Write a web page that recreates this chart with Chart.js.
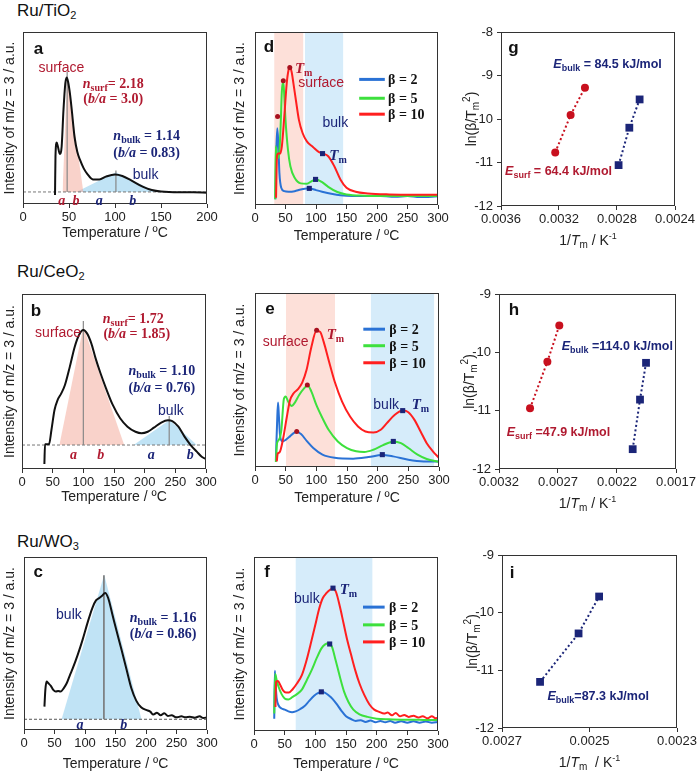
<!DOCTYPE html>
<html>
<head>
<meta charset="utf-8">
<script src="https://cdn.jsdelivr.net/npm/chart.js@4.4.1/dist/chart.umd.min.js"></script>
<style>
  body { margin: 0; background: #fff; width: 700px; height: 776px; position: relative; overflow: hidden;
         font-family: "Liberation Sans", Arial, sans-serif; color: #111; }
  .panel { position: absolute; }
  .ttl { position: absolute; left: 17px; font-size: 17px; line-height: 20px; white-space: nowrap; }
  .ttl sub { font-size: 11px; vertical-align: -3px; }
</style>
</head>
<body>
<div class="ttl" style="top:1px">Ru/TiO<sub>2</sub></div>
<div class="ttl" style="top:262px">Ru/CeO<sub>2</sub></div>
<div class="ttl" style="top:532px">Ru/WO<sub>3</sub></div>
<script>
// ---- data: TPD profiles (temperature / ºC, intensity a.u. on 0-100) ----
const tiTemp = [34.8, 35.3, 36.6, 38, 40, 42, 44, 46, 47.5, 49, 51, 53, 56, 59, 62, 66, 70, 76, 83, 90, 100, 108, 118, 130, 140, 150, 170, 185, 200];
const tiInt  = [5.2, 27.5, 35.7, 33.3, 29.1, 33.3, 54.7, 70.2, 73.6, 71.1, 64.3, 54.7, 39.1, 30.4, 25.6, 20.7, 17.4, 14.3, 14.3, 15.9, 17.2, 16.3, 13.6, 10.1, 8.1, 7.2, 6.8, 6.8, 6.6];

const ceTemp = [36.5, 37.5, 44, 48, 53, 58, 64, 70, 78, 86, 93, 100, 106, 113, 120, 128, 137, 148, 160, 172, 185, 195, 205, 215, 227, 238, 245, 255, 265, 275, 285, 293, 300];
const ceInt  = [2.9, 14.1, 14.1, 22.3, 33.7, 39.4, 43.2, 48, 58.5, 69.9, 76.6, 79.4, 77.5, 71.8, 63.2, 54.7, 46.1, 36.6, 29, 24.2, 21.3, 20.4, 21.3, 23.6, 26.5, 27.8, 27.4, 24.2, 18.5, 13.7, 9.9, 7, 5.7];

const woTemp = [33.5, 35, 37, 40, 44, 48, 52, 56, 60, 65, 70, 75, 80, 88, 96, 104, 112, 118, 124, 128, 133, 138, 145, 152, 160, 168, 176, 184, 192, 200, 207, 212, 218, 224, 230, 236, 242, 250, 258, 265, 272, 280, 288, 294, 300];
const woInt  = [13.5, 23.2, 28, 27, 25.5, 23.2, 22.2, 22.6, 22.2, 24.1, 27, 31.5, 35.7, 43.4, 52.1, 61.8, 70.5, 74.9, 76.4, 77.6, 79.2, 76.3, 66.6, 56.9, 46.3, 35.1, 24.1, 17, 13.1, 11.6, 10.6, 8.9, 10, 8.5, 9.7, 8.1, 8.5, 7.3, 7.9, 7.3, 7.7, 7.1, 7.9, 6.9, 7.3];

// Ru/TiO2 heating-rate series
const dTemp10 = [34.5, 36, 38, 41, 44, 48, 52, 55, 57, 60, 63, 67, 72, 78, 85, 95, 105, 112, 120, 130, 140, 150, 165, 185, 220, 260, 300];
const dInt10  = [4.2, 28.2, 29.7, 29.7, 33.9, 51.1, 70.3, 78, 79.5, 77, 70.3, 60.7, 49.2, 41.6, 36.8, 33.5, 30.5, 29.7, 28.2, 22.4, 14.8, 10, 7.7, 6.7, 6.1, 5.9, 5.9];
const dTemp5 = [33, 34, 36, 38, 40, 42, 44, 45.5, 47, 50, 54, 58, 65, 75, 85, 93, 100, 110, 120, 135, 150, 180, 220, 300];
const dInt5  = [3.3, 33.9, 28.2, 27.2, 31, 45.4, 65.5, 70.7, 68.8, 49.2, 32, 22.4, 15.7, 12.5, 12.3, 13.8, 14.8, 13.2, 10.5, 7.5, 6.1, 5.4, 5.2, 5.2];
const dTemp2 = [33.5, 35, 36.5, 38, 40, 43, 48, 55, 65, 75, 85, 92, 100, 110, 125, 140, 160, 200, 230, 250, 270, 300];
const dInt2  = [3.3, 32, 44.4, 37.7, 18.6, 10, 8, 7.7, 8, 9, 9.6, 9.4, 8.6, 7.7, 6.5, 5.6, 5.2, 5.3, 4.7, 5.2, 4.6, 5];

// Ru/CeO2 heating-rate series
const eTemp10 = [35.5, 37, 40, 46, 52, 57, 63, 70, 77, 84, 92, 100, 106, 112, 120, 130, 142, 155, 168, 180, 193, 205, 215, 228, 241, 250, 260, 270, 280, 290, 300];
const eInt10  = [3.2, 7.6, 8.4, 16.6, 29, 38.2, 42.4, 44.7, 48.5, 55.7, 69.1, 78.2, 77.7, 71.9, 61.5, 49, 37.6, 29, 23.3, 20.4, 19.8, 21.4, 25.2, 30, 32.4, 31.5, 27.1, 20.4, 13.7, 9, 5.2];
const eTemp5 = [34, 36, 39, 43, 47, 50, 54, 60, 65, 72, 80, 86, 92, 100, 110, 120, 135, 150, 165, 178, 193, 208, 226, 238, 250, 265, 280, 300];
const eInt5  = [2.9, 13.7, 15.6, 21.4, 38.9, 40.5, 37.6, 35.1, 37, 41.4, 45.2, 46.9, 43.3, 35.7, 28.1, 21.4, 14.7, 10.9, 9, 8.6, 9.9, 12.4, 14.7, 13.7, 10.9, 7.1, 4.6, 2.9];
const eTemp2 = [34, 36, 37.5, 39, 41, 45, 50, 57, 63, 68, 75, 85, 95, 110, 130, 160, 185, 207, 225, 250, 275, 300];
const eInt2  = [3.8, 25.2, 37, 29, 17.6, 14.7, 15.6, 17.6, 19.5, 20.2, 18.9, 14.7, 10.9, 7.1, 5.3, 4.8, 5.7, 6.9, 6.1, 4.2, 3.2, 3.1];

// Ru/WO3 heating-rate series
const fTemp10 = [35, 36, 39, 43, 47, 52, 57, 63, 70, 78, 85, 92, 100, 106, 112, 118, 124, 129, 134, 140, 146, 152, 158, 165, 172, 180, 188, 196, 204, 212, 218, 225, 231, 238, 245, 252, 260, 268, 275, 283, 290, 296, 300];
const fInt10  = [13.8, 28.3, 28.8, 26.3, 23.5, 22.1, 22.1, 24, 27.3, 32.1, 39.8, 49.4, 61, 70, 76.3, 79.2, 81.2, 82.1, 79.6, 71.5, 61.9, 52.3, 44.2, 35, 27.3, 20.6, 15.4, 12.3, 11, 10, 10.6, 9, 10.4, 8.5, 9.2, 8.1, 8.8, 7.7, 8.5, 7.3, 8.5, 7.3, 7.7];
const fTemp5 = [33, 34.5, 37, 40, 45, 50, 56, 63, 70, 78, 86, 94, 102, 110, 116, 122, 127, 133, 140, 147, 154, 162, 172, 185, 200, 220, 240, 260, 280, 300];
const fInt5  = [10, 32.7, 29.2, 25.4, 21.2, 18.7, 18.1, 19.6, 21.2, 23.8, 29.2, 35, 41.7, 47.5, 49.8, 50.4, 48.5, 40.8, 31.2, 22.5, 16.7, 12.3, 9.6, 8.1, 7.1, 6.7, 6.5, 6.5, 6.3, 6.3];
const fTemp2 = [33, 34, 35.5, 37, 40, 45, 50, 56, 62, 68, 75, 82, 90, 98, 104, 110, 116, 122, 128, 135, 142, 150, 158, 166, 174, 182, 190, 198, 206, 214, 222, 230, 240, 250, 260, 270, 280, 290, 300];
const fInt2  = [7.1, 34.6, 25.4, 18.7, 14.8, 12.9, 12.3, 11.3, 10.8, 11.3, 12.5, 14.2, 17.3, 20.2, 21.7, 22.5, 21.9, 20.4, 18.5, 15.4, 11.9, 8.5, 6.9, 5.8, 6.2, 5.2, 6, 5, 5.8, 5, 5.8, 4.8, 5.6, 4.8, 5.6, 4.8, 5.4, 4.8, 5.2];

// peak-width construction (triangles: base-left, apex, base-right)
const tiBase = 7, ceBase = 13.7, woBase = 6.2;
const tiSurfTriT = [43, 48, 65.6],   tiSurfTriI = [7, 74, 7];
const tiBulkTriT = [58, 101, 145],   tiBulkTriI = [7, 18.5, 7];
const ceSurfTriT = [61, 100, 166.6], ceSurfTriI = [13.7, 81.3, 13.7];
const ceBulkTriT = [182, 240.6, 285], ceBulkTriI = [13.7, 28, 13.7];
const woBulkTriT = [61.6, 131.5, 192.6], woBulkTriI = [6.2, 89.8, 6.2];

// Tm markers
const dSurfTmT = [37, 46.4, 57],      dSurfTmI = [51.1, 71.8, 79.5];
const dBulkTmT = [89, 99.3, 110.7],   dBulkTmI = [9.6, 14.8, 29.7];
const eSurfTmT = [68, 85.3, 100.5],   eSurfTmI = [20.4, 47.1, 78.6];
const eBulkTmT = [207.6, 225.5, 240.8], eBulkTmI = [7.1, 14.7, 32.4];
const fBulkTmT = [109.8, 123.4, 128.8], fBulkTmI = [22.5, 50, 82.1];

// shaded temperature windows
const dSurfBand = [31.6, 79],  dBulkBand = [82, 144.5];
const eSurfBand = [50.5, 130.4], eBulkBand = [189, 292];
const fBulkBand = [68, 193];

// Kissinger plots: 1/Tm (K-1) vs ln(beta/Tm^2)
const gSurfX = [0.003226, 0.003120, 0.003021], gSurfY = [-10.77, -9.91, -9.28];
const gBulkX = [0.002789, 0.002715, 0.002644], gBulkY = [-11.06, -10.20, -9.55];
const hSurfX = [0.002937, 0.002790, 0.002689], hSurfY = [-10.96, -10.16, -9.54];
const hBulkX = [0.002067, 0.002005, 0.001954], hBulkY = [-11.66, -10.81, -10.18];
const iBulkX = [0.002613, 0.002525, 0.002478], iBulkY = [-11.2, -10.36, -9.72];

// ticks and labels
const tiTicks = [0, 50, 100, 150, 200];
const tempTicks = [0, 50, 100, 150, 200, 250, 300];
const gXTicks = [0.0036, 0.0032, 0.0028, 0.0024], gYTicks = [-12, -11, -10, -9, -8];
const hXTicks = [0.0032, 0.0027, 0.0022, 0.0017], hYTicks = [-12, -11, -10, -9];
const iXTicks = [0.0027, 0.0025, 0.0023], iYTicks = [-12, -11, -10, -9];
const betaLabels = ['β = 2', 'β = 5', 'β = 10'];

// ---- styling ----
const SANS = '"Liberation Sans", Arial, Helvetica, sans-serif';
const SERIF = '"Liberation Serif", "Times New Roman", serif';
const fs = (size, w) => `${w || ''} ${size}px ${SANS}`.trim();
const fr = (size, w) => `${w || ''} ${size}px ${SERIF}`.trim();
const RED_T = '#b01a30', NAVY = '#1b2578';
const C2 = '#2a72d5', C5 = '#3de03d', C10 = '#ff1f1f';
const PINK = 'rgba(244,165,150,0.5)', SKY = 'rgba(130,200,235,0.5)';
const PINK_BAND = '#fde0d9', SKY_BAND = '#d6ecfa';

Chart.defaults.font.family = SANS;
Chart.defaults.color = '#222';
Chart.defaults.animation = false;
Chart.defaults.plugins.legend.display = false;
Chart.defaults.plugins.tooltip.enabled = false;

const pts = (xs, ys) => xs.map((x, i) => ({ x, y: ys[i] }));

// rich text pieces: [text, font, dy]
const nText = (sub, val) => [['n', fr(14, 'italic bold')], [sub, fr(10, 'bold'), 3], [val, fr(14, 'bold')]];
const baText = (val) => [['(', fr(14, 'bold')], ['b/a', fr(14, 'italic bold')], [' = ' + val + ')', fr(14, 'bold')]];
const tmText = [['T', fr(15, 'italic bold')], ['m', fr(10, 'bold'), 3]];
const eText = (sub, rest) => [['E', fs(12.5, 'italic bold')], [sub, fs(9, 'bold'), 3], [rest, fs(12.5, 'bold')]];
const word = (t) => [[t, fs(14)]];
const letter = (t) => [[t, fr(14, 'italic bold')]];
const panelTag = (t) => [[t, fs(17, 'bold')]];
const invT = (gap) => [['1/', fs(14)], ['T', fs(14, 'italic')], ['m', fs(10), 3], [gap + '/ K', fs(14)], ['-1', fs(9), -6]];
const lnTitle = [['ln(β/T', fs(14)], ['m', fs(10), 3], ['2', fs(10), -6], [')', fs(14)]];

function runs(ctx, x, y, list, color, align) {
  ctx.save();
  ctx.fillStyle = color;
  ctx.textBaseline = 'alphabetic';
  ctx.textAlign = 'left';
  let w = 0;
  for (const r of list) { ctx.font = r[1]; w += ctx.measureText(r[0]).width; }
  let cx = align === 'center' ? x - w / 2 : align === 'right' ? x - w : x;
  for (const r of list) {
    ctx.font = r[1];
    ctx.fillText(r[0], cx, y + (r[2] || 0));
    cx += ctx.measureText(r[0]).width;
  }
  ctx.restore();
}

const deco = {
  id: 'deco',
  beforeDatasetsDraw(chart, args, o) {
    const { ctx, chartArea: a, scales: { x } } = chart;
    for (const b of o.bands || []) {
      const x1 = x.getPixelForValue(b.range[0]), x2 = x.getPixelForValue(b.range[1]);
      ctx.fillStyle = b.color;
      ctx.fillRect(x1, a.top, x2 - x1, a.bottom - a.top);
    }
  },
  afterDatasetsDraw(chart, args, o) {
    const { ctx, chartArea: a, scales: { x, y } } = chart;
    ctx.save();
    ctx.strokeStyle = '#333';
    ctx.lineWidth = 1;
    ctx.strokeRect(Math.round(a.left) + 0.5, Math.round(a.top) + 0.5,
      Math.round(a.right - a.left) - 1, Math.round(a.bottom - a.top) - 1);
    ctx.restore();
    for (const n of o.notes || []) {
      runs(ctx, x.getPixelForValue(n.x), y.getPixelForValue(n.y) + (n.dy || 5), n.parts, n.color || '#111', n.align);
    }
    if (o.legend) {
      const L = o.legend;
      L.colors.forEach((c, i) => {
        const py = y.getPixelForValue(L.ys[i]);
        ctx.save();
        ctx.strokeStyle = c; ctx.lineWidth = 3;
        ctx.beginPath();
        ctx.moveTo(x.getPixelForValue(L.x1), py);
        ctx.lineTo(x.getPixelForValue(L.x2), py);
        ctx.stroke();
        ctx.restore();
        runs(ctx, x.getPixelForValue(L.tx), py + 5, [[L.labels[i], fr(14, 'bold')]], '#111', 'left');
      });
    }
    if (o.xTitle) runs(ctx, (a.left + a.right) / 2, a.bottom + 39, o.xTitle, '#222', 'center');
    if (o.yTitle) {
      ctx.save();
      ctx.translate(a.left - 30, (a.top + a.bottom) / 2);
      ctx.rotate(-Math.PI / 2);
      runs(ctx, 0, 5, o.yTitle, '#222', 'center');
      ctx.restore();
    }
  }
};

function curve(xs, ys, color, w) {
  return { data: pts(xs, ys), borderColor: color, borderWidth: w || 2, pointRadius: 0,
           cubicInterpolationMode: 'monotone', fill: false };
}
function tri(xs, ys, base, color) {
  return { data: pts(xs, ys), borderColor: 'rgba(0,0,0,0)', borderWidth: 0, backgroundColor: color,
           pointRadius: 0, tension: 0, fill: { value: base } };
}
function vline(xv, y0, y1, color, w) {
  return { data: [{ x: xv, y: y0 }, { x: xv, y: y1 }], borderColor: color || '#888', borderWidth: w || 1.2, pointRadius: 0, tension: 0 };
}
function hdash(x0, x1, yv, color) {
  return { data: [{ x: x0, y: yv }, { x: x1, y: yv }], borderColor: color || '#777', borderWidth: 1, borderDash: [3, 2], pointRadius: 0, tension: 0 };
}
function marks(xs, ys, style, color, r) {
  return { data: pts(xs, ys), showLine: false, pointStyle: style, pointRadius: r, backgroundColor: color, borderColor: color, borderWidth: 0 };
}
function dotted(xs, ys, color, style, r) {
  return { data: pts(xs, ys), borderColor: color, borderWidth: 2, borderDash: [2, 2.5], tension: 0,
           pointStyle: style, pointRadius: r, pointBackgroundColor: color, pointBorderColor: color, pointBorderWidth: 0 };
}

function tpdScales(xmax, ticks) {
  return {
    x: { type: 'linear', min: 0, max: xmax,
         afterBuildTicks: s => { s.ticks = ticks.map(v => ({ value: v })); },
         grid: { drawOnChartArea: false, tickLength: 4, color: '#333' }, border: { display: false },
         ticks: { font: { size: 13 }, color: '#222', padding: 2, maxRotation: 0, autoSkip: false },
         title: { display: true, text: 'Temperature / ºC', font: { size: 14 }, color: '#222', padding: 0 } },
    y: { min: 0, max: 100, ticks: { display: false }, grid: { display: false }, border: { display: false },
         title: { display: true, text: 'Intensity of m/z = 3 / a.u.', font: { size: 14 }, color: '#222', padding: { top: 2 } } }
  };
}
function kinScales(xmin, xmax, xt, ymax, yt) {
  return {
    x: { type: 'linear', reverse: true, min: xmin, max: xmax,
         afterBuildTicks: s => { s.ticks = xt.map(v => ({ value: v })); },
         grid: { drawOnChartArea: false, tickLength: 4, color: '#333' }, border: { display: false },
         ticks: { font: { size: 13 }, color: '#222', padding: 2, maxRotation: 0, autoSkip: false, callback: v => v.toFixed(4) } },
    y: { min: -12, max: ymax,
         afterBuildTicks: s => { s.ticks = yt.map(v => ({ value: v })); },
         grid: { drawOnChartArea: false, tickLength: 4, color: '#333' }, border: { display: false },
         ticks: { font: { size: 13 }, color: '#222', padding: 4, callback: v => String(v) } }
  };
}

function makePanel(box, plot, datasets, scales, deco_opts) {
  const div = document.createElement('div');
  div.className = 'panel';
  Object.assign(div.style, { left: box.x + 'px', top: box.y + 'px', width: box.w + 'px', height: box.h + 'px' });
  const cv = document.createElement('canvas');
  cv.width = box.w; cv.height = box.h;
  cv.style.width = box.w + 'px'; cv.style.height = box.h + 'px';
  div.appendChild(cv);
  document.body.appendChild(div);
  scales.x.afterFit = s => { s.height = box.y + box.h - plot.b; };
  scales.y.afterFit = s => { s.width = plot.l - box.x; };
  new Chart(cv, {
    type: 'line',
    data: { datasets },
    options: {
      responsive: false,
      layout: { padding: { left: 0, top: plot.t - box.y, right: box.x + box.w - plot.r, bottom: 0 } },
      scales,
      plugins: { deco: deco_opts }
    },
    plugins: [deco]
  });
}

// ---- a: Ru/TiO2 ----
makePanel({ x: 0, y: 20, w: 230, h: 222 }, { l: 23, t: 32, r: 207, b: 204 }, [
  curve(tiTemp, tiInt, '#111'),
  vline(48, tiBase, 77), vline(101, tiBase, 19.5),
  hdash(0, 200, tiBase),
  tri(tiSurfTriT, tiSurfTriI, tiBase, PINK), tri(tiBulkTriT, tiBulkTriI, tiBase, SKY)
], tpdScales(200, tiTicks), {
  notes: [
    { x: 16.7, y: 90.5, parts: panelTag('a'), align: 'center', dy: 6 },
    { x: 41.7, y: 79.8, parts: word('surface'), color: RED_T, align: 'center' },
    { x: 64.9, y: 70.5, parts: nText('surf', '= 2.18'), color: RED_T },
    { x: 65.6, y: 61.4, parts: baText('3.0'), color: RED_T },
    { x: 98.2, y: 39.9, parts: nText('bulk', ' = 1.14'), color: NAVY },
    { x: 98.2, y: 30.4, parts: baText('0.83'), color: NAVY },
    { x: 133.3, y: 17.2, parts: word('bulk'), color: NAVY, align: 'center' },
    { x: 42, y: 2.3, parts: letter('a'), color: RED_T, align: 'center' },
    { x: 57.6, y: 2.3, parts: letter('b'), color: RED_T, align: 'center' },
    { x: 83, y: 2.3, parts: letter('a'), color: NAVY, align: 'center' },
    { x: 119.2, y: 2.3, parts: letter('b'), color: NAVY, align: 'center' }
  ]
});

// ---- d: Ru/TiO2 heating rates ----
makePanel({ x: 230, y: 20, w: 230, h: 225 }, { l: 255, t: 32, r: 438, b: 205 }, [
  marks(dSurfTmT, dSurfTmI, 'circle', '#a8101e', 2.5),
  marks(dBulkTmT, dBulkTmI, 'rect', NAVY, 3.6),
  curve(dTemp10, dInt10, C10), curve(dTemp5, dInt5, C5), curve(dTemp2, dInt2, C2)
], tpdScales(300, tempTicks), {
  bands: [{ range: dSurfBand, color: PINK_BAND }, { range: dBulkBand, color: SKY_BAND }],
  legend: { x1: 170.8, x2: 212.8, tx: 218.2, ys: [72.6, 61.7, 52.5], colors: [C2, C5, C10], labels: betaLabels },
  notes: [
    { x: 22.9, y: 91.8, parts: panelTag('d'), align: 'center', dy: 6 },
    { x: 65.5, y: 79, parts: tmText, color: RED_T },
    { x: 70.9, y: 71.3, parts: word('surface'), color: RED_T },
    { x: 110.7, y: 47.7, parts: word('bulk'), color: NAVY },
    { x: 121.7, y: 29.1, parts: tmText, color: NAVY }
  ]
});

// ---- g: Kissinger Ru/TiO2 ----
makePanel({ x: 460, y: 20, w: 240, h: 230 }, { l: 501, t: 32, r: 675, b: 206 }, [
  dotted(gSurfX, gSurfY, '#c8101e', 'circle', 4),
  dotted(gBulkX, gBulkY, NAVY, 'rect', 5.5)
], kinScales(0.0024, 0.0036, gXTicks, -8, gYTicks), {
  xTitle: invT(' '), yTitle: lnTitle,
  notes: [
    { x: 0.003515, y: -8.34, parts: panelTag('g'), align: 'center', dy: 6 },
    { x: 0.003239, y: -8.72, parts: eText('bulk', ' = 84.5 kJ/mol'), color: NAVY },
    { x: 0.003572, y: -11.18, parts: eText('surf', ' = 64.4 kJ/mol'), color: RED_T }
  ]
});

// ---- b: Ru/CeO2 ----
makePanel({ x: 0, y: 280, w: 230, h: 226 }, { l: 22, t: 294, r: 206, b: 469 }, [
  curve(ceTemp, ceInt, '#111'),
  vline(100, ceBase, 84.6), vline(240, ceBase, 30.3),
  hdash(0, 300, ceBase),
  tri(ceSurfTriT, ceSurfTriI, ceBase, PINK), tri(ceBulkTriT, ceBulkTriI, ceBase, SKY)
], tpdScales(300, tempTicks), {
  notes: [
    { x: 22.9, y: 90.9, parts: panelTag('b'), align: 'center', dy: 6 },
    { x: 58.8, y: 78.5, parts: word('surface'), color: RED_T, align: 'center' },
    { x: 131.7, y: 86.1, parts: nText('surf', '= 1.72'), color: RED_T },
    { x: 132.8, y: 77.5, parts: baText('1.85'), color: RED_T },
    { x: 173.7, y: 56.6, parts: nText('bulk', ' = 1.10'), color: NAVY },
    { x: 173.7, y: 47, parts: baText('0.76'), color: NAVY },
    { x: 242.8, y: 33.7, parts: word('bulk'), color: NAVY, align: 'center' },
    { x: 83.8, y: 8.6, parts: letter('a'), color: RED_T, align: 'center' },
    { x: 128.5, y: 8.6, parts: letter('b'), color: RED_T, align: 'center' },
    { x: 210.7, y: 8.6, parts: letter('a'), color: NAVY, align: 'center' },
    { x: 274.4, y: 8.6, parts: letter('b'), color: NAVY, align: 'center' }
  ]
});

// ---- e: Ru/CeO2 heating rates ----
makePanel({ x: 230, y: 280, w: 230, h: 227 }, { l: 255, t: 293, r: 439, b: 467 }, [
  marks(eSurfTmT, eSurfTmI, 'circle', '#a8101e', 2.5),
  marks(eBulkTmT, eBulkTmI, 'rect', NAVY, 3.6),
  curve(eTemp10, eInt10, C10), curve(eTemp5, eInt5, C5), curve(eTemp2, eInt2, C2)
], tpdScales(300, tempTicks), {
  bands: [{ range: eSurfBand, color: PINK_BAND }, { range: eBulkBand, color: SKY_BAND }],
  legend: { x1: 176.6, x2: 212, tx: 219, ys: [79.2, 69.7, 59.9], colors: [C2, C5, C10], labels: betaLabels },
  notes: [
    { x: 24.5, y: 91.6, parts: panelTag('e'), align: 'center', dy: 6 },
    { x: 12.5, y: 72.5, parts: word('surface'), color: RED_T },
    { x: 116.8, y: 76.3, parts: tmText, color: RED_T },
    { x: 192.9, y: 36.3, parts: word('bulk'), color: NAVY },
    { x: 255.4, y: 36.3, parts: tmText, color: NAVY }
  ]
});

// ---- h: Kissinger Ru/CeO2 ----
makePanel({ x: 460, y: 280, w: 240, h: 235 }, { l: 499, t: 294, r: 676, b: 469 }, [
  dotted(hSurfX, hSurfY, '#c8101e', 'circle', 4),
  dotted(hBulkX, hBulkY, NAVY, 'rect', 5.5)
], kinScales(0.0017, 0.0032, hXTicks, -9, hYTicks), {
  xTitle: invT(' '), yTitle: lnTitle,
  notes: [
    { x: 0.003073, y: -9.26, parts: panelTag('h'), align: 'center', dy: 6 },
    { x: 0.002669, y: -9.87, parts: eText('bulk', ' =114.0 kJ/mol'), color: NAVY },
    { x: 0.003135, y: -11.35, parts: eText('surf', ' =47.9 kJ/mol'), color: RED_T }
  ]
});

// ---- c: Ru/WO3 ----
makePanel({ x: 0, y: 545, w: 230, h: 228 }, { l: 24, t: 557, r: 207, b: 730 }, [
  curve(woTemp, woInt, '#111'),
  vline(131, woBase, 89.5, '#777', 1.6),
  hdash(0, 300, woBase, '#555'),
  tri(woBulkTriT, woBulkTriI, woBase, SKY)
], tpdScales(300, tempTicks), {
  notes: [
    { x: 23.5, y: 91.7, parts: panelTag('c'), align: 'center', dy: 6 },
    { x: 73.6, y: 67.2, parts: word('bulk'), color: NAVY, align: 'center' },
    { x: 173.5, y: 65.3, parts: nText('bulk', ' = 1.16'), color: NAVY },
    { x: 173.5, y: 56, parts: baText('0.86'), color: NAVY },
    { x: 91.6, y: 3.5, parts: letter('a'), color: NAVY, align: 'center' },
    { x: 163.7, y: 3.5, parts: letter('b'), color: NAVY, align: 'center' }
  ]
});

// ---- f: Ru/WO3 heating rates ----
makePanel({ x: 230, y: 545, w: 230, h: 228 }, { l: 254, t: 557, r: 438, b: 731 }, [
  marks(fBulkTmT, fBulkTmI, 'rect', NAVY, 3.6),
  curve(fTemp10, fInt10, C10), curve(fTemp5, fInt5, C5), curve(fTemp2, fInt2, C2)
], tpdScales(300, tempTicks), {
  bands: [{ range: fBulkBand, color: SKY_BAND }],
  legend: { x1: 177.7, x2: 213, tx: 220.1, ys: [71.2, 61, 51.2], colors: [C2, C5, C10], labels: betaLabels },
  notes: [
    { x: 21.2, y: 91.7, parts: panelTag('f'), align: 'center', dy: 6 },
    { x: 65.2, y: 76.3, parts: word('bulk'), color: NAVY },
    { x: 139.7, y: 81.5, parts: tmText, color: NAVY }
  ]
});

// ---- i: Kissinger Ru/WO3 ----
makePanel({ x: 460, y: 540, w: 240, h: 236 }, { l: 502, t: 555, r: 677, b: 728 }, [
  dotted(iBulkX, iBulkY, NAVY, 'rect', 5.5)
], kinScales(0.0023, 0.0027, iXTicks, -9, iYTicks), {
  xTitle: invT('  '), yTitle: lnTitle,
  notes: [
    { x: 0.002677, y: -9.29, parts: panelTag('i'), align: 'center', dy: 6 },
    { x: 0.002596, y: -11.43, parts: eText('bulk', '=87.3 kJ/mol'), color: NAVY }
  ]
});
</script>
</body>
</html>
